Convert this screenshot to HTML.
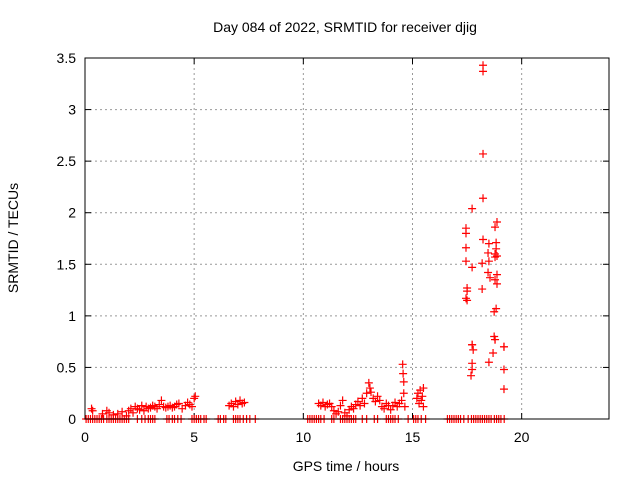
<!DOCTYPE html>
<html><head><meta charset="utf-8"><style>
body{margin:0;background:#fff}
svg{display:block;font-family:"Liberation Sans",sans-serif}
</style></head><body>
<svg id="c" width="640" height="480">
<text x="345" y="32" font-size="14" text-anchor="middle">Day 084 of 2022, SRMTID for receiver djig</text>
<text x="346" y="471" font-size="14" text-anchor="middle">GPS time / hours</text>
<text transform="translate(18,238) rotate(-90)" font-size="14" text-anchor="middle">SRMTID / TECUs</text>
<g id="grid"></g>
<g id="ticks"></g>
<g id="pts"></g>
<rect x="85" y="58" width="524" height="361" fill="none" stroke="#000"/>
</svg>
<script>
const xTicks=[0,5,10,15,20];
const yTicks=[0,0.5,1,1.5,2,2.5,3,3.5];
const yTickLabels=["0","0.5","1","1.5","2","2.5","3","3.5"];
const zeroTimes=[0.05,0.15,0.25,0.35,0.45,0.55,0.65,0.75,0.85,1.0,1.1,1.2,1.3,1.4,1.5,1.6,1.7,1.8,1.9,2.0,2.4,2.6,2.75,2.9,3.0,3.1,3.2,3.75,3.85,4.0,4.1,4.25,4.4,4.9,5.0,5.1,5.2,5.3,5.45,5.55,6.1,6.2,6.35,6.45,6.8,6.9,7.0,7.1,7.25,7.4,7.55,7.8,10.2,10.3,10.4,10.5,10.6,10.7,10.8,10.95,11.3,11.4,11.7,11.8,11.9,12.0,12.1,12.2,12.3,12.4,12.7,12.9,13.25,13.4,13.8,13.9,14.0,14.1,14.2,14.35,14.8,15.05,15.15,15.25,15.4,15.6,16.6,16.7,16.8,16.9,17.0,17.1,17.2,17.35,17.55,17.7,17.8,17.9,18.0,18.1,18.2,18.3,18.4,18.5,18.6,18.75,18.85,18.95,19.05,19.2];
const times=[0.3,0.35,0.8,1.0,1.1,1.3,1.5,1.7,1.9,2.0,2.1,2.2,2.3,2.4,2.5,2.6,2.7,2.8,2.9,3.0,3.1,3.2,3.3,3.4,3.5,3.6,3.7,3.8,3.9,4.0,4.1,4.2,4.3,4.45,4.6,4.7,4.8,4.9,5.0,5.05,
6.6,6.7,6.8,6.9,7.0,7.1,7.2,7.3,
10.7,10.8,10.9,11.0,11.1,11.2,11.3,11.4,11.5,11.6,11.7,11.8,11.9,12.0,12.1,12.2,12.3,12.4,12.5,12.6,12.7,12.8,12.9,13.0,13.05,13.1,13.2,13.3,13.4,13.5,13.6,13.7,13.8,13.9,14.0,14.1,14.2,14.3,14.4,14.5,14.55,14.57,14.6,14.6,14.65,
15.2,15.25,15.3,15.35,15.4,15.45,15.5,15.5,
18.23,18.23,18.23,18.23,17.73,17.45,17.45,17.45,17.45,17.73,18.23,18.87,18.78,18.5,18.83,18.83,18.46,18.78,18.78,18.87,18.19,18.5,18.46,18.87,18.55,18.78,18.87,17.5,17.5,18.19,17.45,17.5,18.83,18.74,18.74,18.78,17.73,19.19,
17.73,17.78,17.73,17.73,17.68,18.5,18.78,18.69,19.19,19.19,19.19];
const values=[0.1,0.08,0.05,0.08,0.06,0.04,0.05,0.07,0.03,0.08,0.1,0.06,0.12,0.1,0.09,0.13,0.08,0.12,0.1,0.11,0.13,0.12,0.1,0.14,0.18,0.12,0.11,0.12,0.13,0.11,0.12,0.14,0.15,0.1,0.13,0.16,0.14,0.12,0.2,0.22,
0.13,0.15,0.12,0.17,0.14,0.18,0.15,0.16,
0.15,0.13,0.16,0.12,0.14,0.15,0.12,0.08,0.05,0.07,0.13,0.18,0.06,0.03,0.09,0.12,0.1,0.14,0.17,0.13,0.2,0.15,0.25,0.35,0.3,0.26,0.2,0.17,0.22,0.18,0.12,0.1,0.15,0.13,0.09,0.13,0.16,0.12,0.15,0.18,0.53,0.44,0.36,0.25,0.12,
0.2,0.25,0.15,0.28,0.18,0.22,0.3,0.12,
3.43,3.37,2.57,2.14,2.04,1.85,1.8,1.66,1.53,1.47,1.74,1.91,1.86,1.7,1.71,1.65,1.61,1.6,1.57,1.58,1.51,1.53,1.42,1.4,1.37,1.35,1.31,1.27,1.24,1.26,1.17,1.15,1.07,1.04,0.8,0.77,0.72,0.7,
0.72,0.67,0.54,0.48,0.42,0.55,0.77,0.64,0.7,0.48,0.29];
const X0=85,X1=609,Y0=419,Y1=58;
const sx=t=>X0+(t/24)*(X1-X0);
const sy=v=>Y0-(v/3.5)*(Y0-Y1);
const NS="http://www.w3.org/2000/svg";
const grid=document.getElementById('grid'),tk=document.getElementById('ticks'),pts=document.getElementById('pts');
function mk(tag,at,parent){const e=document.createElementNS(NS,tag);for(const k in at)e.setAttribute(k,at[k]);parent.appendChild(e);return e;}
yTicks.forEach((v,i)=>{const y=sy(v);
 if(i>0&&i<yTicks.length-1){const g=mk('line',{x1:X0,x2:X1,y1:y,y2:y,stroke:'#999','stroke-dasharray':'2,3'},grid);
 
 }
 mk('line',{x1:X0,x2:X0+6,y1:y,y2:y,stroke:'#000'},tk);
 mk('line',{x1:X1,x2:X1-6,y1:y,y2:y,stroke:'#000'},tk);
 const t=mk('text',{x:X0-9,y:y+5,'font-size':14,'text-anchor':'end'},tk);t.textContent=yTickLabels[i];
 
 
});
xTicks.forEach(v=>{const x=sx(v);
 if(v>0){const g=mk('line',{x1:x,x2:x,y1:Y1,y2:Y0,stroke:'#999','stroke-dasharray':'2,3'},grid);
 
 }
 mk('line',{x1:x,x2:x,y1:Y0,y2:Y0-6,stroke:'#000'},tk);
 mk('line',{x1:x,x2:x,y1:Y1,y2:Y1+6,stroke:'#000'},tk);
 const t=mk('text',{x:x,y:Y0+23,'font-size':14,'text-anchor':'middle'},tk);t.textContent=v;
 
 
});
function plus(t,v){const x=sx(t),y=sy(v);
 const p=mk('path',{d:`M${x-4} ${y}h8M${x} ${y-4}v8`,stroke:'#f00','stroke-width':1.2,fill:'none'},pts);
 
 }
zeroTimes.forEach(t=>plus(t,0));
times.forEach((t,i)=>plus(t,values[i]));
</script>
</body></html>
